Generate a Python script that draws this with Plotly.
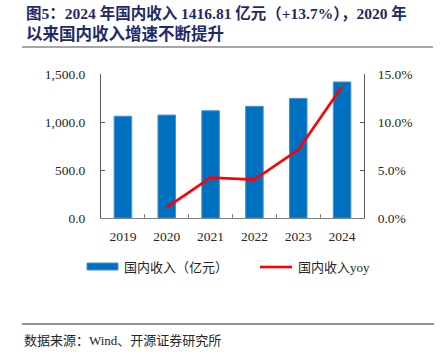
import plotly.graph_objects as go

years = ["2019", "2020", "2021", "2022", "2023", "2024"]
revenue = [1060, 1072, 1117, 1163, 1246, 1416.81]
yoy_years = ["2020", "2021", "2022", "2023", "2024"]
yoy = [1.1, 4.2, 4.0, 7.1, 13.7]

title_l1 = "图5：2024 年国内收入 1416.81 亿元（+13.7%），2020 年"
title_l2 = "以来国内收入增速不断提升"
source = "数据来源：Wind、开源证券研究所"
legend_bar = "国内收入（亿元）"
legend_line = "国内收入yoy"

W, H = 445, 356
L, R, T, B = 101, 81, 74, 138
SERIF = "Liberation Serif, Times New Roman, Noto Sans CJK SC, serif"
CJK = "Liberation Serif, Noto Sans CJK SC, serif"

def px(x):
    return (x - L) / (W - L - R)

def py(y):
    return (H - B - y) / (H - T - B)

fig = go.Figure()
fig.add_trace(go.Bar(x=years, y=revenue, width=0.4,
                     marker=dict(color="#0070C0", line=dict(color="#4A90D0", width=1)),
                     showlegend=False))
fig.add_trace(go.Scatter(x=yoy_years, y=yoy, mode="lines", yaxis="y2",
                         line=dict(color="#FF0000", width=2.6), showlegend=False))

axis_col = "#595959"
fig.update_layout(
    width=W, height=H,
    margin=dict(l=L, r=R, t=T, b=B),
    plot_bgcolor="white", paper_bgcolor="white",
    font=dict(family=SERIF, size=13, color="#262626"),
    bargap=0.6,
    xaxis=dict(type="category", showline=True, linecolor="#808080", linewidth=1,
               ticks="inside", tickson="boundaries", ticklen=4, tickcolor="#808080",
               showgrid=False, tickfont=dict(size=13.5, family=SERIF, color="#262626"),
               ticklabelstandoff=6),
    yaxis=dict(range=[0, 1500], dtick=500, tickformat=",.1f", showline=True,
               linecolor=axis_col, linewidth=1, ticks="inside", ticklen=4,
               tickcolor=axis_col, showgrid=False, zeroline=False,
               tickfont=dict(size=13.5, family=SERIF, color="#262626"),
               ticklabelstandoff=12),
    yaxis2=dict(range=[0, 15], dtick=5, tickformat=".1f", ticksuffix="%",
                overlaying="y", side="right", showline=True, linecolor=axis_col,
                linewidth=1, ticks="inside", ticklen=4, tickcolor=axis_col,
                showgrid=False, zeroline=False,
                tickfont=dict(size=13.5, family=SERIF, color="#262626"),
                ticklabelstandoff=10),
)

shapes = []
shapes.append(dict(type="line", xref="paper", yref="paper", x0=px(22), x1=px(433),
                   y0=py(47), y1=py(47), line=dict(color="#A6A6A6", width=2)))
shapes.append(dict(type="line", xref="paper", yref="paper", x0=px(22), x1=px(434),
                   y0=py(324), y1=py(324), line=dict(color="#262626", width=1.2)))
shapes.append(dict(type="rect", xref="paper", yref="paper", x0=px(87), x1=px(118),
                   y0=py(270), y1=py(263), fillcolor="#0070C0",
                   line=dict(color="#4A90D0", width=1)))
shapes.append(dict(type="line", xref="paper", yref="paper", x0=px(260), x1=px(292),
                   y0=py(267), y1=py(267), line=dict(color="#FF0000", width=2.6)))
fig.update_layout(shapes=shapes)

ann = []
tf1 = dict(family="Liberation Serif, Noto Sans CJK SC, serif", size=15.5, color="#1F2A6B")
tf2 = dict(family="Liberation Serif, Noto Sans CJK SC, serif", size=16.5, color="#1F2A6B")
ann.append(dict(text="<b>" + title_l1 + "</b>", x=px(24), y=py(13), xref="paper", yref="paper",
                xanchor="left", yanchor="middle", showarrow=False, font=tf1))
ann.append(dict(text="<b>" + title_l2 + "</b>", x=px(24), y=py(34), xref="paper", yref="paper",
                xanchor="left", yanchor="middle", showarrow=False, font=tf2))
leg_font = dict(family=CJK, size=13, color="#262626")
ann.append(dict(text=legend_bar, x=px(122), y=py(267), xref="paper", yref="paper",
                xanchor="left", yanchor="middle", showarrow=False, font=leg_font))
ann.append(dict(text=legend_line, x=px(296), y=py(267), xref="paper", yref="paper",
                xanchor="left", yanchor="middle", showarrow=False, font=leg_font))
ann.append(dict(text=source, x=px(22), y=py(340), xref="paper", yref="paper",
                xanchor="left", yanchor="middle", showarrow=False,
                font=dict(family=CJK, size=13, color="#262626")))
fig.update_layout(annotations=ann)

fig.write_html("out.html",
               config={"displayModeBar": False},
               post_script="document.body.style.margin='0px';document.body.style.overflow='hidden';")
